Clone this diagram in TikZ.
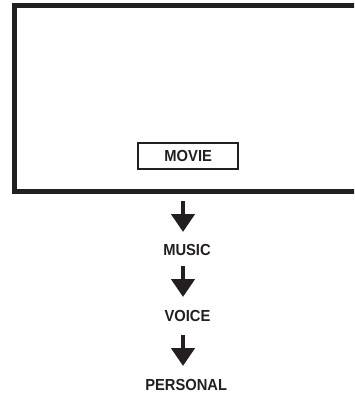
\documentclass[tikz,border=0pt]{standalone}
\usepackage{fontspec}
\setmainfont{Liberation Sans}
\newfontfamily\lblfont[FakeStretch=0.92]{Liberation Sans}
\usetikzlibrary{arrows.meta}
\definecolor{ink}{RGB}{35,31,32}
\tikzset{
  lbl/.style={font=\lblfont\bfseries\fontsize{16}{18}\selectfont, text=ink, inner sep=0pt},
  bigarrow/.style={draw=ink, line width=4.5pt, -{Triangle[width=23pt,length=18pt]}, fill=ink},
  labelbox/.style={draw=ink, line width=2pt, minimum width=99.7pt, minimum height=26pt, inner sep=0pt}
}
\begin{document}
\begin{tikzpicture}[x=1pt,y=-1pt]
\useasboundingbox (0,0) rectangle (354,395);
\clip (0,0) rectangle (354,395);
\node[draw=ink, line width=5pt, minimum width=360pt, minimum height=186pt, inner sep=0pt, anchor=north west] (screen) at (12,3.2) {};
\node[labelbox, lbl] (movie) at (188.2,156.3) {MOVIE};
\node[lbl] (music) at (187,250) {MUSIC};
\node[lbl] (voice) at (187.5,316) {VOICE};
\node[lbl] (personal) at (186.2,384.5) {PERSONAL};
\coordinate (a1s) at (183,201);
\coordinate (a1e) at (183,232);
\coordinate (a2s) at (183,266);
\coordinate (a2e) at (183,297);
\coordinate (a3s) at (183,335);
\coordinate (a3e) at (183,366);
\draw[bigarrow] (a1s) -- (a1e);
\draw[bigarrow] (a2s) -- (a2e);
\draw[bigarrow] (a3s) -- (a3e);
\end{tikzpicture}
\end{document}
